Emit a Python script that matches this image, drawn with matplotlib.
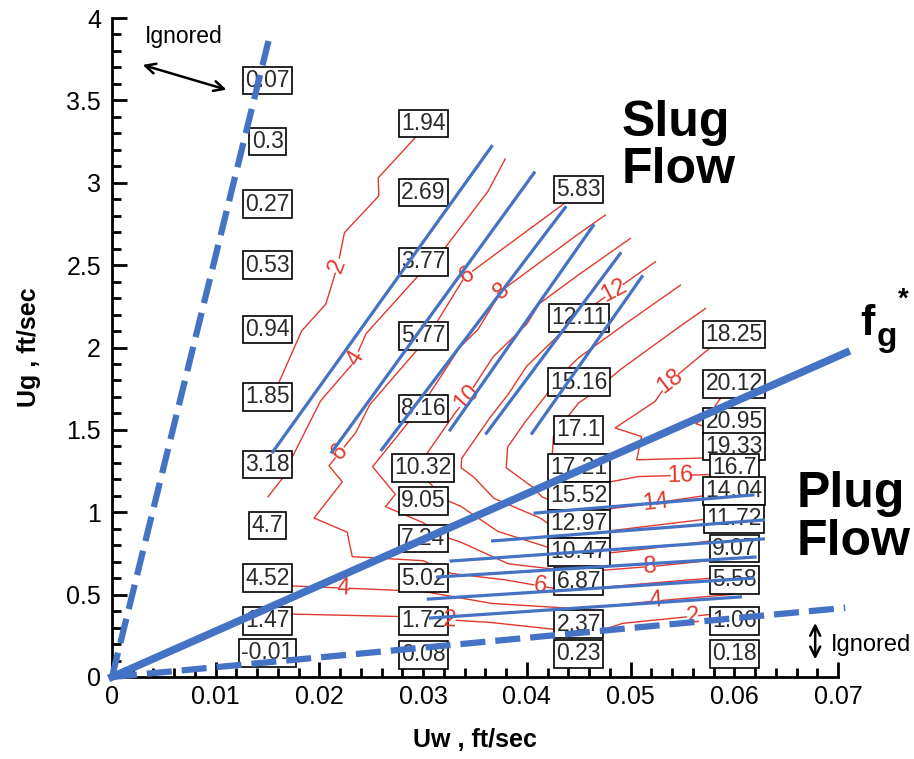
import matplotlib
matplotlib.use('Agg')
import matplotlib.pyplot as plt
import matplotlib.tri as mtri
from matplotlib.ticker import MultipleLocator
import numpy as np

plt.rcParams['font.family'] = ['Liberation Sans', 'DejaVu Sans']

# measured points: Uw column, Ug, value shown in the box
col_uw = [0.015, 0.03, 0.045, 0.06]
ug_c1 = [3.62, 3.25, 2.87, 2.50, 2.11, 1.70, 1.29, 0.92, 0.60, 0.34, 0.146]
val_c1 = ['0.07', '0.3', '0.27', '0.53', '0.94', '1.85', '3.18', '4.7', '4.52', '1.47', '-0.01']
ug_c2 = [3.36, 2.94, 2.52, 2.07, 1.63, 1.27, 1.07, 0.84, 0.60, 0.34, 0.134]
val_c2 = ['1.94', '2.69', '3.77', '5.77', '8.16', '10.32', '9.05', '7.24', '5.02', '1.72', '0.08']
ug_c3 = [2.96, 2.18, 1.79, 1.50, 1.27, 1.10, 0.93, 0.76, 0.58, 0.32, 0.14]
val_c3 = ['5.83', '12.11', '15.16', '17.1', '17.21', '15.52', '12.97', '10.47', '6.87', '2.37', '0.23']
ug_c4 = [2.08, 1.78, 1.55, 1.40, 1.27, 1.13, 0.96, 0.78, 0.59, 0.34, 0.14]
val_c4 = ['18.25', '20.12', '20.95', '19.33', '16.7', '14.04', '11.72', '9.07', '5.58', '1.06', '0.18']

levels = [2, 4, 6, 8, 10, 12, 14, 16, 18, 20]

# boundary lines (start and end points)
ignore_hi = ([0, 0.01524], [0, 3.90])
ignore_lo = ([0, 0.0707], [0, 0.42])
fg_line = ([0, 0.0708], [0, 1.97])

# slug-region fitted lines
slug_x0 = [0.0155, 0.0212, 0.0260, 0.0326, 0.0361, 0.0405]
slug_y0 = [1.366, 1.366, 1.38, 1.50, 1.48, 1.48]
slug_x1 = [0.0366, 0.0407, 0.0437, 0.0464, 0.0490, 0.0511]
slug_y1 = [3.22, 3.06, 2.85, 2.74, 2.57, 2.43]

# plug-region fitted lines
plug_x0 = [0.0408, 0.0367, 0.0327, 0.0314, 0.0305, 0.0307]
plug_y0 = [0.995, 0.826, 0.704, 0.607, 0.473, 0.358]
plug_x1 = [0.0618, 0.0628, 0.0628, 0.0620, 0.0618, 0.0606]
plug_y1 = [1.105, 0.953, 0.838, 0.728, 0.600, 0.486]

# contour label spots
lab_pos = [(0.0205, 2.54), (0.0228, 1.97), (0.0222, 1.34), (0.0338, 2.51),
           (0.0367, 2.40), (0.034, 1.71), (0.0483, 2.36), (0.0538, 1.79),
           (0.0548, 1.21), (0.0524, 1.09), (0.0519, 0.68), (0.0413, 0.57),
           (0.0524, 0.45), (0.0223, 0.55), (0.0326, 0.35), (0.056, 0.35)]

blue = '#4472c4'
red = '#e2392d'

fig = plt.figure(figsize=(9.14, 7.59), dpi=100)
ax = fig.add_axes([112 / 914, 82 / 759, 726 / 914, 659 / 759])

ug_cols = [ug_c1, ug_c2, ug_c3, ug_c4]
val_cols = [val_c1, val_c2, val_c3, val_c4]
xs, ys, zs = [], [], []
for uw, ugs, vals in zip(col_uw, ug_cols, val_cols):
    for ug, v in zip(ugs, vals):
        xs.append(uw)
        ys.append(ug)
        zs.append(float(v))
xs, ys, zs = np.array(xs), np.array(ys), np.array(zs)

# triangulate in screen-like units so the columns connect sensibly
tri0 = mtri.Triangulation(xs / 0.07 * 726, ys / 4 * 659)
tri = mtri.Triangulation(xs, ys, tri0.triangles)
cs = ax.tricontour(tri, zs, levels=levels, colors=red, linewidths=1.0, zorder=2)
ax.clabel(cs, fmt='%d', fontsize=17, colors=red, inline=True, inline_spacing=2,
          manual=lab_pos)

for uw, ugs, vals in zip(col_uw, ug_cols, val_cols):
    for ug, v in zip(ugs, vals):
        ax.text(uw, ug, v, ha='center', va='center', fontsize=16.5, color='#2a2a2a',
                zorder=3,
                bbox=dict(boxstyle='square,pad=0.1', fc='white', ec='black', lw=1.2))

for seg in (ignore_hi, ignore_lo):
    ax.plot(seg[0], seg[1], color=blue, lw=4.5, ls=(0, (4, 1.6)),
            clip_on=False, zorder=4, solid_capstyle='butt')
ax.plot(fg_line[0], fg_line[1], color=blue, lw=5.5, clip_on=False, zorder=4)

for i in range(len(slug_x0)):
    ax.plot([slug_x0[i], slug_x1[i]], [slug_y0[i], slug_y1[i]], color=blue, lw=2.3, zorder=4)
for i in range(len(plug_x0)):
    ax.plot([plug_x0[i], plug_x1[i]], [plug_y0[i], plug_y1[i]], color=blue, lw=2.3, zorder=4)

# "Ignored" notes
ax.annotate('', xy=(0.0027, 3.72), xytext=(0.0113, 3.56),
            arrowprops=dict(arrowstyle='<->', lw=1.8, color='black', mutation_scale=18),
            annotation_clip=False)
ax.text(0.0032, 3.89, 'Ignored', fontsize=16.5, ha='left', va='center', clip_on=False)
ax.annotate('', xy=(0.0678, 0.345), xytext=(0.0678, 0.09),
            arrowprops=dict(arrowstyle='<->', lw=1.8, color='black', mutation_scale=18),
            annotation_clip=False)
ax.text(0.0693, 0.194, 'Ignored', fontsize=17, ha='left', va='center', clip_on=False)

fig.text(622 / 914, 0.807, 'Slug\nFlow', fontsize=36, fontweight='bold',
         ha='left', va='center', linespacing=1.05)
fig.text(797 / 914, 0.318, 'Plug\nFlow', fontsize=36, fontweight='bold',
         ha='left', va='center', linespacing=1.05)
fig.text(860 / 914, 1 - 335 / 759, 'f', fontsize=31, fontweight='bold', va='baseline')
fig.text(877 / 914, 1 - 346 / 759, 'g', fontsize=24, fontweight='bold', va='baseline')
fig.text(898 / 914, 1 - 300 / 759, '*', fontsize=20, fontweight='bold', va='center')

ax.set_xlim(0, 0.07)
ax.set_ylim(0, 4)
ax.set_xticks(np.arange(0, 0.0701, 0.01))
ax.set_xticklabels(['0', '0.01', '0.02', '0.03', '0.04', '0.05', '0.06', '0.07'])
ax.set_yticks(np.arange(0, 4.01, 0.5))
ax.set_yticklabels(['0', '0.5', '1', '1.5', '2', '2.5', '3', '3.5', '4'])
ax.xaxis.set_minor_locator(MultipleLocator(0.002))
ax.yaxis.set_minor_locator(MultipleLocator(0.1))
ax.tick_params(which='both', direction='in', width=2, labelsize=18)
ax.tick_params(which='major', length=11)
ax.tick_params(which='minor', length=6.5)
ax.tick_params(axis='x', pad=6)
ax.tick_params(axis='y', pad=8)
for s in ('top', 'right'):
    ax.spines[s].set_visible(False)
for s in ('left', 'bottom'):
    ax.spines[s].set_linewidth(2)

ax.set_xlabel('Uw , ft/sec', fontsize=18, fontweight='bold')
ax.set_ylabel('Ug , ft/sec', fontsize=18, fontweight='bold')
ax.xaxis.label.set_va('center')
ax.yaxis.label.set_va('center')
ax.xaxis.set_label_coords(0.5, -0.096)
ax.yaxis.set_label_coords(-0.114, 0.5)

fig.savefig('out.png', dpi=100)
